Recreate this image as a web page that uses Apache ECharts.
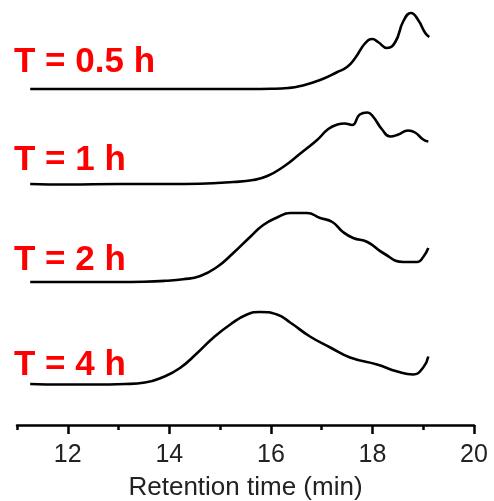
<!DOCTYPE html>
<html>
<head>
<meta charset="utf-8">
<script src="https://cdn.jsdelivr.net/npm/echarts@6/dist/echarts.min.js"></script>
<style>
  html, body { margin: 0; padding: 0; background: #fff; }
  #chart { width: 494px; height: 501px; }
</style>
</head>
<body>
<div id="chart"></div>
<script>
// retention time (min) / signal height for each trace
const labels = ['T = 0.5 h', 'T = 1 h', 'T = 2 h', 'T = 4 h'];
const offsets = [336, 241, 143, 41];

const time05 = [11.26, 12.0, 13.0, 14.0, 15.0, 15.6, 16.0, 16.34, 16.58, 16.97, 17.31, 17.50, 17.66, 17.86, 18.0, 18.11, 18.29, 18.45, 18.61, 18.76, 18.90, 19.04, 19.12];
const sig05 = [0, 0, 0, 0, 0, 0, 0.2, 1, 3, 9, 17, 22, 31, 46, 50, 47, 41, 47, 68, 76, 69, 56, 52];

const time1 = [11.26, 12.0, 13.0, 14.0, 14.6, 15.26, 15.65, 15.93, 16.24, 16.58, 16.91, 17.13, 17.31, 17.45, 17.60, 17.75, 17.90, 18.01, 18.19, 18.35, 18.51, 18.70, 18.84, 19.0, 19.10];
const sig1 = [0, -0.5, 0, 0, 0.3, 2, 4, 8, 17, 30.5, 44, 55, 59.5, 60.5, 59, 69.5, 71.5, 67.5, 54.5, 47.5, 49.5, 53.5, 51.5, 44.5, 42.5];

const time2 = [11.26, 12.0, 12.97, 13.5, 13.92, 14.27, 14.61, 14.94, 15.26, 15.59, 15.85, 16.14, 16.38, 16.71, 16.97, 17.21, 17.42, 17.62, 17.90, 18.21, 18.61, 18.88, 19.0, 19.10];
const sig2 = [0, 0, 0, 0.3, 1.2, 2.7, 6, 15, 29, 45, 57, 65, 69, 69, 64, 60, 50, 44, 40, 29, 20, 20, 25, 34];

const time4 = [11.26, 11.89, 12.5, 13.13, 13.52, 13.88, 14.21, 14.55, 14.86, 15.20, 15.53, 15.79, 16.12, 16.38, 16.77, 17.17, 17.56, 18.09, 18.49, 18.80, 19.0, 19.10];
const sig4 = [0, -0.5, -0.5, 0, 1.5, 7, 16, 31, 46, 59.5, 69.5, 72, 69.5, 61.5, 47.5, 36.5, 26.5, 19.5, 12.5, 9.5, 16.5, 27.5];

const majorTicks = [12, 14, 16, 18, 20];
const minorTicks = [11, 13, 15, 17, 19];

const traces = [[time05, sig05], [time1, sig1], [time2, sig2], [time4, sig4]];
const labelY = [65, 163, 263, 368];

const chart = echarts.init(document.getElementById('chart'));

const series = traces.map((tr, i) => ({
  type: 'line',
  name: labels[i],
  xAxisIndex: 0,
  data: tr[0].map((t, j) => [t, offsets[i] + tr[1][j]]),
  smooth: 0.5,
  showSymbol: false,
  lineStyle: { color: '#000', width: 2.6 },
  silent: true
}));

const font = 'Liberation Sans, Arial, sans-serif';

chart.setOption({
  animation: false,
  grid: { left: 17, right: 20, top: 0, bottom: 76, outerBoundsMode: 'none' },
  xAxis: [{
    type: 'value',
    min: 11,
    max: 20,
    interval: 1,
    splitLine: { show: false },
    axisLine: { lineStyle: { color: '#000', width: 2.5 } },
    axisTick: { customValues: majorTicks, length: 9, lineStyle: { color: '#000', width: 2.5 } },
    axisLabel: { customValues: majorTicks, margin: 18, fontSize: 25, color: '#222', fontFamily: font },
    name: 'Retention time (min)',
    nameLocation: 'middle',
    nameGap: 50,
    nameTextStyle: { fontSize: 26, color: '#222', fontFamily: font }
  }, {
    type: 'value',
    min: 11,
    max: 20,
    interval: 1,
    position: 'bottom',
    splitLine: { show: false },
    axisLine: { show: false },
    axisTick: { customValues: minorTicks, length: 5, lineStyle: { color: '#000', width: 2.5 } },
    axisLabel: { show: false }
  }],
  yAxis: {
    type: 'value',
    min: 0,
    max: 425,
    show: false
  },
  graphic: labels.map((txt, i) => ({
    type: 'text',
    left: 14,
    top: labelY[i] - 20,
    style: {
      text: txt,
      fill: '#ff0000',
      font: 'bold 35px ' + font
    }
  })),
  series: series
});
</script>
</body>
</html>
